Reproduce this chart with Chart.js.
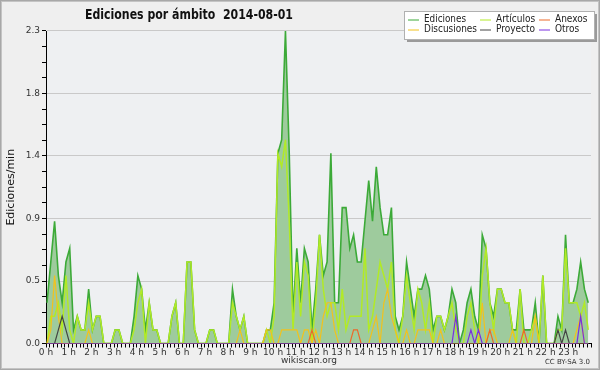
<!DOCTYPE html>
<html>
<head>
<meta charset="utf-8">
<script src="https://cdn.jsdelivr.net/npm/chart.js@4/dist/chart.umd.min.js"></script>
<style>
  html, body { margin: 0; padding: 0; background: #efefef; }
  canvas { display: block; }
</style>
</head>
<body>
<canvas id="chart" width="600" height="370"></canvas>
<script>
// edits per minute, one value per 10-minute slot (0 h .. 23 h 50)
const ediciones = [
  0.3,0.6,0.9,0.5,0.3,0.6,0.7,0.1,0.2,0.1,0.1,0.4,
  0.1,0.2,0.2,0,0,0,0.1,0.1,0,0,0,0.2,
  0.5,0.4,0.1,0.3,0.1,0.1,0,0,0,0.2,0.3,0,
  0,0.6,0.6,0.1,0,0,0,0.1,0.1,0,0,0,
  0,0.4,0.2,0.1,0.2,0,0,0,0,0,0.1,0.1,
  0.3,1.4,1.5,2.3,1.4,0.2,0.7,0.3,0.7,0.6,0.1,0.4,
  0.8,0.5,0.6,1.4,0.3,0.3,1.0,1.0,0.7,0.8,0.6,0.6,
  0.9,1.2,0.9,1.3,1.0,0.8,0.8,1.0,0.2,0.1,0.2,0.6,
  0.4,0.2,0.4,0.4,0.5,0.4,0.1,0.2,0.2,0.1,0.2,0.4,
  0.3,0,0.1,0.3,0.4,0.2,0.1,0.8,0.7,0.3,0.2,0.4,
  0.4,0.3,0.3,0.1,0.1,0.4,0.1,0.1,0.1,0.3,0,0.5,
  0,0,0,0.2,0.1,0.8,0.3,0.3,0.4,0.6,0.4,0.3
];
const articulos = [
  0,0.2,0.2,0.3,0.1,0.5,0.1,0,0.2,0.1,0.1,0.3,
  0.1,0.2,0.2,0,0,0,0.1,0.1,0,0,0,0.1,
  0.3,0.4,0,0.3,0.1,0.1,0,0,0,0.2,0.3,0,
  0,0.6,0.6,0.1,0,0,0,0.1,0.1,0,0,0,
  0,0.3,0.2,0.1,0.2,0,0,0,0,0,0.1,0,
  0.2,1.4,1.3,1.5,0.9,0.1,0.6,0.2,0.6,0.5,0,0.3,
  0.8,0.4,0.2,0.3,0.3,0.1,0.4,0.1,0.2,0.2,0.2,0.2,
  0.7,0.1,0.2,0.4,0.6,0.5,0.4,0.6,0.1,0,0.2,0.5,
  0.3,0.1,0.4,0.3,0.1,0.3,0,0.2,0.2,0.1,0.2,0.3,
  0.1,0,0,0.2,0.3,0.1,0,0.5,0.7,0.3,0.1,0.4,
  0.4,0.3,0.3,0.1,0,0.4,0,0,0.1,0.2,0,0.5,
  0,0,0,0.1,0.1,0.7,0.3,0.3,0.3,0.2,0.3,0.1
];
const anexos = [
  0,0,0,0,0,0,0,0,0,0,0,0,
  0,0,0,0,0,0,0,0,0,0,0,0,
  0,0,0,0,0,0,0,0,0,0,0,0,
  0,0,0,0,0,0,0,0,0,0,0,0,
  0,0,0,0,0,0,0,0,0,0,0,0,
  0,0,0,0,0,0,0,0,0,0,0.1,0,
  0,0,0,0,0,0,0,0,0,0.1,0.1,0,
  0,0,0,0,0,0,0,0,0,0,0,0,
  0,0,0,0,0,0,0,0,0,0,0,0,
  0,0,0,0,0,0,0,0,0,0.1,0,0,
  0,0,0,0,0,0,0.1,0,0,0,0,0,
  0,0,0,0,0,0,0,0,0,0,0,0
];
const discusiones = [
  0,0.1,0.5,0.2,0,0,0,0,0,0,0,0.1,
  0,0,0,0,0,0,0,0,0,0,0,0,
  0,0,0,0,0,0,0,0,0,0,0,0,
  0,0,0,0,0,0,0,0,0,0,0,0,
  0,0,0,0.1,0,0,0,0,0,0,0.1,0.1,
  0,0,0.1,0.1,0.1,0.1,0.1,0,0.1,0.1,0,0.1,
  0,0.2,0.3,0.3,0.1,0,0,0,0,0,0,0,
  0,0,0.1,0.2,0,0.3,0.4,0.2,0.1,0,0,0.1,
  0,0,0.1,0.1,0.1,0.1,0,0,0.1,0,0,0,
  0,0,0,0,0,0,0,0.3,0,0.1,0.1,0,
  0,0,0,0.1,0,0,0,0,0,0.2,0,0,
  0,0,0,0,0,0,0,0,0.1,0.2,0,0
];
const proyecto = [
  0,0,0,0.1,0.2,0.1,0,0,0,0,0,0,
  0,0,0,0,0,0,0,0,0,0,0,0,
  0,0,0,0,0,0,0,0,0,0,0,0,
  0,0,0,0,0,0,0,0,0,0,0,0,
  0,0,0,0,0,0,0,0,0,0,0,0,
  0,0,0,0,0,0,0,0,0,0,0,0,
  0,0,0,0,0,0,0,0,0,0,0,0,
  0,0,0,0,0,0,0,0,0,0,0,0,
  0,0,0,0,0,0,0,0,0,0,0,0,
  0,0,0,0,0,0,0,0,0,0,0,0,
  0,0,0,0,0,0,0,0,0,0,0,0,
  0,0,0,0.1,0,0.1,0,0,0,0,0,0
];
const otros = [
  0,0,0,0,0,0,0,0,0,0,0,0,
  0,0,0,0,0,0,0,0,0,0,0,0,
  0,0,0,0,0,0,0,0,0,0,0,0,
  0,0,0,0,0,0,0,0,0,0,0,0,
  0,0,0,0,0,0,0,0,0,0,0,0,
  0,0,0,0,0,0,0,0,0,0,0,0,
  0,0,0,0,0,0,0,0,0,0,0,0,
  0,0,0,0,0,0,0,0,0,0,0,0,
  0,0,0,0,0,0,0,0,0,0,0,0,
  0.2,0,0,0,0.1,0,0.1,0,0,0,0,0,
  0,0,0,0,0,0,0,0,0,0,0,0,
  0,0,0,0,0,0,0,0,0,0.2,0,0
];

const seriesNames = ['Ediciones', 'Artículos', 'Anexos', 'Discusiones', 'Proyecto', 'Otros'];
const yTickLabels = ['0.0', '0.5', '0.9', '1.4', '1.8', '2.3'];
const hourLabels = ['0 h','1 h','2 h','3 h','4 h','5 h','6 h','7 h','8 h','9 h','10 h','11 h',
  '12 h','13 h','14 h','15 h','16 h','17 h','18 h','19 h','20 h','21 h','22 h','23 h'];
const chartTitle = 'Ediciones por ámbito  2014-08-01';
const yTitle = 'Ediciones/min';

const colors = {
  ediciones: '#3caa38',
  articulos: '#b2ea26',
  anexos: '#ec6a2a',
  discusiones: '#f2c21c',
  proyecto: '#444444',
  otros: '#7a2fe0'
};

const slot = 1 / 6;      // 10 minutes, in hours
const slotShift = 0.27;  // points sit a little after the start of each slot
const toPoints = arr => arr.map((v, i) => ({ x: (i + slotShift) * slot, y: v }));

const lineDs = (label, data, color, order, width) => ({
  label, data: toPoints(data),
  borderColor: color, borderWidth: width, fill: false,
  pointRadius: 0, tension: 0, order
});

const datasets = [
  Object.assign(lineDs(seriesNames[0], ediciones, colors.ediciones, 10, 1.6),
    { fill: 'origin', backgroundColor: '#9ecb9d' }),
  lineDs(seriesNames[1], articulos, colors.articulos, 5, 1.5),
  lineDs(seriesNames[2], anexos, colors.anexos, 3, 1.2),
  lineDs(seriesNames[3], discusiones, colors.discusiones, 4, 1.2),
  lineDs(seriesNames[4], proyecto, colors.proyecto, 2, 1.2),
  lineDs(seriesNames[5], otros, colors.otros, 1, 1.2)
];

// draws text squeezed to a given width if it comes out wider
function fitText(ctx, text, x, y, maxW) {
  const w = ctx.measureText(text).width;
  const k = w > maxW ? maxW / w : 1;
  ctx.save();
  ctx.translate(x, y);
  ctx.scale(k, 1);
  ctx.fillText(text, 0, 0);
  ctx.restore();
}

const decorations = {
  id: 'decorations',
  beforeDraw(chart) {
    const { ctx, chartArea: a } = chart;
    ctx.save();
    ctx.fillStyle = '#efefef';
    ctx.fillRect(0, 0, chart.width, chart.height);
    ctx.fillStyle = '#eef0f2';
    ctx.fillRect(a.left, a.top, a.right - a.left, a.bottom - a.top);
    ctx.restore();
  },
  afterDraw(chart) {
    const { ctx } = chart;
    ctx.save();
    // frame
    ctx.strokeStyle = '#a8a8a8';
    ctx.lineWidth = 1;
    ctx.strokeRect(0.5, 0.5, chart.width - 1, chart.height - 1);
    ctx.strokeStyle = '#c4c4c4';
    ctx.strokeRect(1.5, 1.5, chart.width - 3, chart.height - 3);

    // title
    ctx.fillStyle = '#111';
    ctx.font = 'bold 14px "DejaVu Sans Condensed", "DejaVu Sans"';
    ctx.textBaseline = 'middle';
    ctx.textAlign = 'left';
    fitText(ctx, chartTitle, 85, 15, 208);

    // legend box with shadow
    const lx = 404, ly = 11, lw = 190, lh = 28;
    ctx.fillStyle = '#9a9a9a';
    ctx.fillRect(lx + 3, ly + 3, lw, lh);
    ctx.fillStyle = '#ffffff';
    ctx.fillRect(lx, ly, lw, lh);
    ctx.strokeStyle = '#b0b0b0';
    ctx.strokeRect(lx + 0.5, ly + 0.5, lw, lh);

    const cols = [408, 480, 539];
    const rows = [19.5, 29.5];
    const maxW = [[42, 43, 33], [53, 40, 25]];
    ctx.font = '10px "DejaVu Sans Condensed", "DejaVu Sans"';
    ctx.textBaseline = 'middle';
    chart.data.datasets.forEach((ds, k) => {
      const c = k % 3, r = Math.floor(k / 3);
      const x = cols[c], y = rows[r];
      ctx.strokeStyle = ds.borderColor;
      ctx.lineWidth = 1;
      ctx.beginPath();
      ctx.moveTo(x, y + 0.5);
      ctx.lineTo(x + 11, y + 0.5);
      ctx.stroke();
      ctx.fillStyle = '#222';
      fitText(ctx, ds.label, x + 16, y, maxW[r][c]);
    });

    // footer
    ctx.fillStyle = '#333';
    ctx.font = '9px "DejaVu Sans"';
    ctx.textAlign = 'center';
    ctx.fillText('wikiscan.org', 309, 361);
    ctx.font = '7px "DejaVu Sans"';
    ctx.textAlign = 'right';
    ctx.fillText('CC BY-SA 3.0', 590, 362);
    ctx.restore();
  }
};

new Chart(document.getElementById('chart'), {
  type: 'line',
  data: { datasets },
  options: {
    responsive: false,
    animation: false,
    devicePixelRatio: 1,
    layout: { padding: { left: 0, right: 9, top: 31, bottom: 0 } },
    plugins: {
      legend: { display: false },
      title: { display: false },
      tooltip: { enabled: false }
    },
    scales: {
      x: {
        type: 'linear',
        min: 0,
        max: 24,
        afterFit: s => { s.height = 26.5; },
        afterBuildTicks: s => {
          s.ticks = Array.from({ length: 145 }, (_, k) => ({ value: k * slot }));
        },
        ticks: {
          autoSkip: false,
          maxRotation: 0,
          minRotation: 0,
          padding: 0,
          color: '#333',
          font: { family: 'DejaVu Sans', size: 9 },
          callback: (v, i) => (i % 6 === 0 && i < 144) ? hourLabels[i / 6] : ''
        },
        grid: {
          drawOnChartArea: false,
          drawTicks: true,
          tickLength: 4,
          tickColor: '#000'
        },
        border: { display: true, color: '#000', width: 1 }
      },
      y: {
        type: 'linear',
        min: 0,
        max: 2.3,
        afterFit: s => { s.width = 46; },
        afterBuildTicks: s => {
          s.ticks = Array.from({ length: 21 }, (_, k) => ({ value: k * 0.115 }));
        },
        ticks: {
          autoSkip: false,
          padding: 2,
          color: '#333',
          font: { family: 'DejaVu Sans', size: 9 },
          callback: (v, i) => i % 4 === 0 ? yTickLabels[i / 4] : ''
        },
        grid: {
          drawOnChartArea: true,
          tickLength: 4,
          tickColor: '#000',
          color: c => (c.index % 4 === 0 && c.index > 0) ? '#c9c9c9' : 'rgba(0,0,0,0)'
        },
        border: { display: true, color: '#000', width: 1 },
        title: {
          display: true,
          text: yTitle,
          color: '#111',
          font: { family: 'DejaVu Sans', size: 11 },
          padding: { top: 5, bottom: 0 }
        }
      }
    }
  },
  plugins: [decorations]
});
</script>
</body>
</html>
